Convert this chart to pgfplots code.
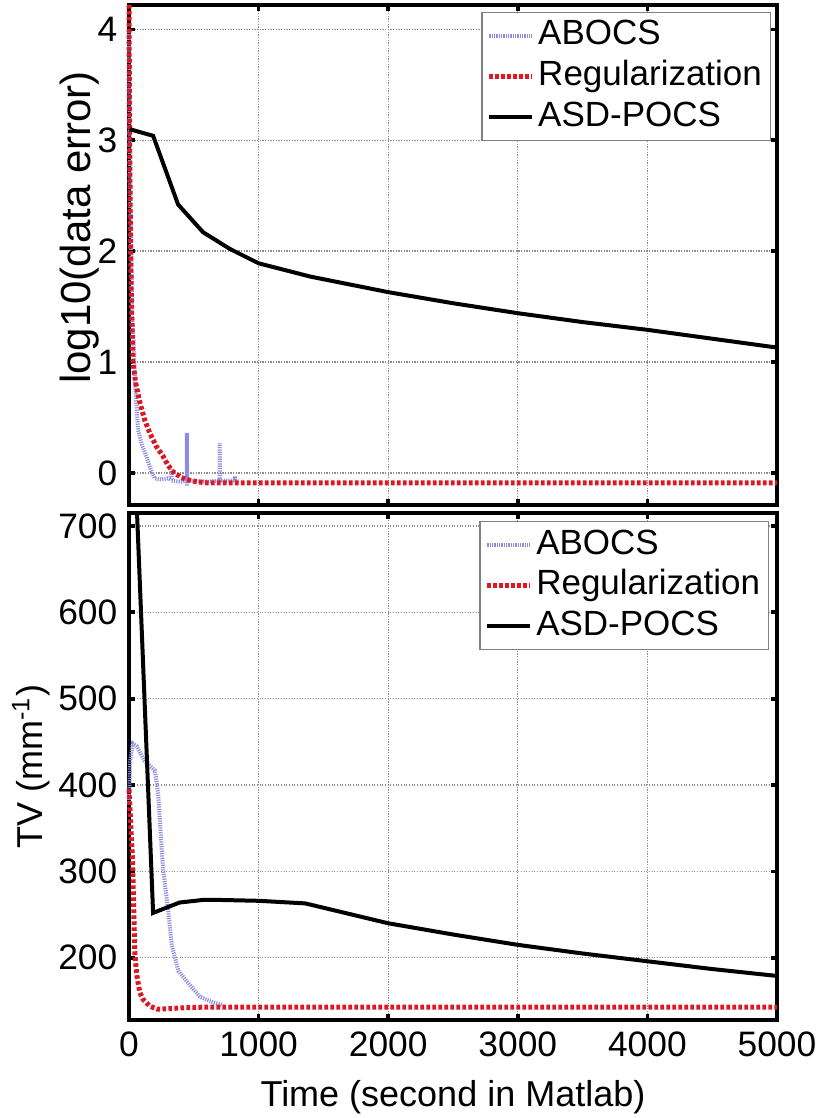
\documentclass[border=0pt]{standalone}
\usepackage{fontspec}
\setmainfont{Liberation Sans}
\usepackage{pgfplots}
\pgfplotsset{compat=1.18}
\definecolor{abocs}{RGB}{140,140,225}
\definecolor{regred}{RGB}{220,25,35}
\definecolor{gridgray}{RGB}{140,140,140}
\pgfplotsset{
 mystyle/.style={
  scale only axis, width=194.4pt,
  xmin=0, xmax=5000,
  axis line style={line width=1.1pt},
  tick style={line width=1.1pt, black},
  major tick length=1.8pt,
  tick align=inside,
  xtick={0,1000,...,5000},
  grid=major,
  major grid style={gridgray, line width=0.4pt, dash pattern=on 0.35pt off 0.45pt},
  tick label style={font=\fontsize{10.6}{12}\selectfont},
  label style={font=\fontsize{10.8}{12}\selectfont},
  /pgf/number format/assume math mode=true,
  /pgf/number format/1000 sep={},
  scaled ticks=false,
  legend cell align=left,
  legend image code/.code={\draw[##1] (0pt,0pt) -- (12.9pt,0pt);},
  legend style={draw=gray, line width=0.4pt, font=\fontsize{10.5}{12}\selectfont, anchor=north east, inner xsep=1.5pt, inner ysep=1.1pt, row sep=0.4pt, nodes={inner sep=1pt, text height=7.6pt, text depth=2.2pt}},
  clip=false,
 },
 abocsstyle/.style={abocs, line width=1.2pt, dash pattern=on 0.35pt off 0.35pt},
 regstyle/.style={regred, line width=1.5pt, dash pattern=on 1.1pt off 0.7pt},
 asdstyle/.style={black, line width=1.2pt, solid},
}
\begin{document}
\begin{tikzpicture}
\useasboundingbox (0,0) rectangle (244.8pt,335.4pt);
% ---------- top panel ----------
\begin{axis}[mystyle, at={(38.7pt,183.9pt)}, anchor=south west, height=150pt,
  ymin=-0.29, ymax=4.22, ytick={0,1,2,3,4}, xticklabels={},
  ylabel={log10(data error)},
  ylabel style={at={(axis description cs:-0.0756,0.555)}, anchor=center, rotate=0, font=\fontsize{12.6}{14}\selectfont},
  legend style={at={(0.9907,0.986)}}]
\addplot[abocsstyle] coordinates {
 (0,4.0) (10,2.5) (25,1.4) (35,1.2) (50,0.75) (70,0.39) (100,0.25) (134,0.15)
 (170,0.02) (199,-0.05) (250,-0.06) (300,-0.05) (326,-0.06) (327,0.03) (329,-0.07)
 (400,-0.08) (446,-0.07) (447,0.36) (448,-0.12) (449,-0.07) (500,-0.07) (600,-0.08)
 (699,-0.07) (700,0.27) (701,-0.08) (702,-0.07) (760,-0.07) (816,-0.07) (817,-0.03)
 (818,-0.07) (850,-0.07)};
\addlegendentry{ABOCS}
\addplot[regstyle] coordinates {
 (0,4.22) (5,3.0) (10,2.3) (18,1.56) (31,1.0) (50,0.82) (83,0.64) (120,0.48)
 (160,0.36) (210,0.24) (263,0.15) (300,0.07) (340,0.01) (400,-0.04) (444,-0.06)
 (520,-0.08) (600,-0.09) (5000,-0.09)};
\addlegendentry{Regularization}
\addplot[asdstyle] coordinates {
 (5,3.1) (186,3.04) (379,2.42) (572,2.17) (778,2.02) (1000,1.89) (1200,1.83)
 (1400,1.77) (2000,1.63) (2500,1.53) (3000,1.44) (3500,1.36) (4000,1.29)
 (4500,1.21) (5000,1.13)};
\addlegendentry{ASD-POCS}
\end{axis}
% ---------- bottom panel ----------
\begin{axis}[mystyle, at={(38.7pt,29.4pt)}, anchor=south west, height=152.1pt,
  ymin=128, ymax=715, ytick={200,300,400,500,600,700},
  xlabel={Time (second in Matlab)},
  xlabel style={at={(axis description cs:0.5,-0.1716)}, anchor=base},
  ylabel={TV (mm\textsuperscript{-1})},
  ylabel style={at={(axis description cs:-0.151,0.5)}, anchor=center, rotate=0},
  legend style={at={(0.9877,0.984)}}]
\addplot[abocsstyle] coordinates {
 (0,380) (10,430) (30,448) (60,445) (120,428) (200,417) (225,390) (240,355)
 (255,320) (265,300) (300,258) (330,215) (380,185) (456,171) (546,155) (620,150)
 (701,146) (720,145)};
\addlegendentry{ABOCS}
\addplot[regstyle] coordinates {
 (0,395) (15,350) (28,310) (35,265) (45,205) (60,180) (83,160) (108,152) (160,144)
 (220,140.5) (300,141) (400,142) (600,143) (5000,143)};
\addlegendentry{Regularization}
\addplot[asdstyle] coordinates {
 (62,715) (186,252) (390,264) (570,267) (700,267) (1000,266) (1360,263) (2000,240)
 (2500,227) (3000,215) (3500,205) (4000,196) (4500,187) (5000,179)};
\addlegendentry{ASD-POCS}
\end{axis}
\end{tikzpicture}
\end{document}
